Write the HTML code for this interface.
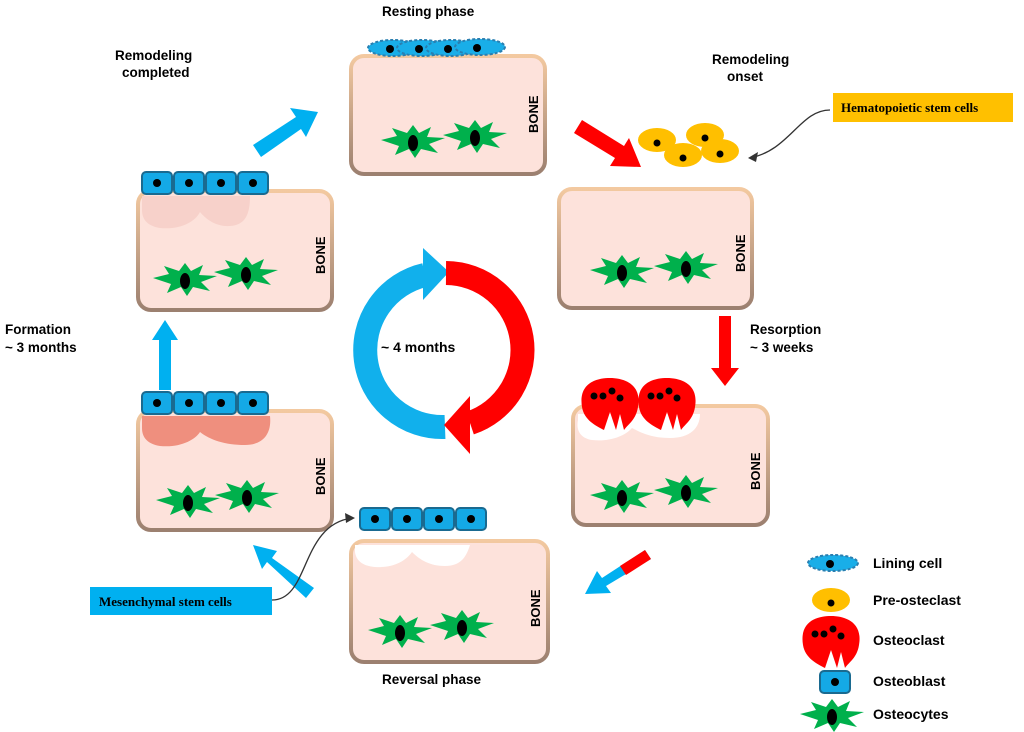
<!DOCTYPE html>
<html><head><meta charset="utf-8"><style>
body{margin:0;background:#fff}
svg{display:block}
text{font-family:"Liberation Sans",Arial,sans-serif;font-weight:bold;fill:#000}
</style></head><body>
<svg width="1024" height="732" viewBox="0 0 1024 732">
<defs>
<linearGradient id="bd" x1="0" y1="0" x2="0" y2="1"><stop offset="0" stop-color="#f3c9a0"/><stop offset="1" stop-color="#9c8070"/></linearGradient>
<g id="ocy">
<polygon points="-32,-2 -16,-6 -21,-14 -6,-9 0,-17 6,-9 18,-15 14,-5 32,-4 16,2 25,11 8,7 2,16 -4,7 -18,13 -14,4" fill="#00b04c"/>
<ellipse cx="0" cy="1" rx="5" ry="8" fill="#000"/>
</g>
<g id="ob">
<rect x="0" y="0" width="30" height="22" rx="4" fill="#14a9e6" stroke="#1a6a90" stroke-width="2"/>
<circle cx="15" cy="11" r="4" fill="#000"/>
</g>
<g id="lc">
<ellipse cx="0" cy="0" rx="25" ry="8" fill="#19aee8" stroke="#2a7fb0" stroke-width="2" stroke-dasharray="3 2"/>
<circle cx="-3" cy="1" r="4" fill="#000"/>
</g>
<g id="poc">
<ellipse cx="0" cy="0" rx="19" ry="12" fill="#ffbf00"/>
<circle cx="0" cy="3" r="3.5" fill="#000"/>
</g>
<g id="oc">
<path d="M-28,5 C-32,-20 -12,-24 0,-24 C14,-24 32,-18 28,5 C26,18 18,22 14,28 L10,12 L6,28 L0,10 L-6,28 C-14,24 -26,18 -28,5Z" fill="#f00"/>
<circle cx="-16" cy="-6" r="3.5" fill="#000"/><circle cx="-7" cy="-6" r="3.5" fill="#000"/><circle cx="2" cy="-11" r="3.5" fill="#000"/><circle cx="10" cy="-4" r="3.5" fill="#000"/>
</g>
</defs>

<g stroke="url(#bd)" stroke-width="4" fill="#fde2db">
<rect x="351" y="56" width="194" height="118" rx="13"/>
<rect x="559" y="189" width="193" height="119" rx="13"/>
<rect x="573" y="406" width="195" height="119" rx="13"/>
<rect x="351" y="541" width="197" height="121" rx="13"/>
<rect x="138" y="411" width="194" height="119" rx="13"/>
<rect x="138" y="191" width="194" height="119" rx="13"/>
</g>
<path d="M142,196 L250,196 C250,215 245,225 230,226 C215,227 205,218 200,212 C195,222 180,230 160,228 C148,226 142,220 142,210Z" fill="#f7d1ca"/>
<path d="M142,416 L270,416 C272,435 262,445 245,445 C225,445 210,440 200,432 C195,440 180,448 160,446 C148,444 142,438 142,428Z" fill="#ef8f7e"/>
<path d="M355,545 L470,545 C466,558 460,566 445,566 C430,566 420,560 412,552 C405,562 392,568 375,567 C362,566 356,560 355,552Z" fill="#fff"/>
<path d="M578,414 L700,414 C700,428 690,438 670,438 C650,438 640,432 632,428 C625,436 610,442 592,440 C580,438 576,430 578,420Z" fill="#fff"/>

<g font-size="13">
<text transform="translate(538,133) rotate(-90)">BONE</text>
<text transform="translate(745,272) rotate(-90)">BONE</text>
<text transform="translate(760,490) rotate(-90)">BONE</text>
<text transform="translate(540,627) rotate(-90)">BONE</text>
<text transform="translate(325,495) rotate(-90)">BONE</text>
<text transform="translate(325,274) rotate(-90)">BONE</text>
</g>

<use href="#ocy" x="413" y="142"/><use href="#ocy" x="475" y="137"/>
<use href="#ocy" x="622" y="272"/><use href="#ocy" x="686" y="268"/>
<use href="#ocy" x="622" y="497"/><use href="#ocy" x="686" y="492"/>
<use href="#ocy" x="400" y="632"/><use href="#ocy" x="462" y="627"/>
<use href="#ocy" x="188" y="502"/><use href="#ocy" x="247" y="497"/>
<use href="#ocy" x="185" y="280"/><use href="#ocy" x="246" y="274"/>

<use href="#lc" x="393" y="48"/><use href="#lc" x="422" y="48"/><use href="#lc" x="451" y="48"/><use href="#lc" x="480" y="47"/>
<use href="#ob" x="142" y="172"/><use href="#ob" x="174" y="172"/><use href="#ob" x="206" y="172"/><use href="#ob" x="238" y="172"/>
<use href="#ob" x="142" y="392"/><use href="#ob" x="174" y="392"/><use href="#ob" x="206" y="392"/><use href="#ob" x="238" y="392"/>
<use href="#ob" x="360" y="508"/><use href="#ob" x="392" y="508"/><use href="#ob" x="424" y="508"/><use href="#ob" x="456" y="508"/>
<use href="#poc" x="657" y="140"/><use href="#poc" x="705" y="135"/><use href="#poc" x="683" y="155"/><use href="#poc" x="720" y="151"/>
<use href="#oc" x="610" y="402"/><use href="#oc" x="667" y="402"/>

<polygon points="253,145 296,117 290,108 318,112 306,137 301,129 261,157" fill="#00b0f0"/>
<polygon points="582,120 624,146 629,138 641,167 610,166 615,158 574,133" fill="#f00"/>
<polygon points="719,316 731,316 731,368 739,368 725,386 711,368 719,368" fill="#f00"/>
<polygon points="645,550 602,578 597,571 585,594 611,593 606,586 651,559" fill="#00b0f0"/>
<polygon points="645,550 620,566 626,575 651,559" fill="#f00"/>
<polygon points="314,588 272,558 277,551 253,545 262,569 267,562 306,598" fill="#00b0f0"/>
<polygon points="159,390 171,390 171,340 178,340 165,320 152,340 159,340" fill="#00b0f0"/>

<path d="M445 427 A77 77 0 0 1 425 275" fill="none" stroke="#11b0ec" stroke-width="24"/>
<polygon points="423,248 449,272 423,300" fill="#11b0ec"/>
<path d="M446 273 A77 77 0 0 1 470 423" fill="none" stroke="#f00" stroke-width="24"/>
<polygon points="470,396 444,425 470,454" fill="#f00"/>
<text x="381" y="352" font-size="14">~ 4 months</text>

<g font-size="13.5">
<text x="382" y="16">Resting phase</text>
<text x="115" y="60">Remodeling</text><text x="122" y="77">completed</text>
<text x="712" y="64">Remodeling</text><text x="727" y="81">onset</text>
<text x="750" y="334">Resorption</text><text x="750" y="352">~ 3 weeks</text>
<text x="5" y="334">Formation</text><text x="5" y="352">~ 3 months</text>
<text x="382" y="684">Reversal phase</text>
</g>
<rect x="833" y="93" width="180" height="29" fill="#ffc000"/>
<text x="841" y="112" font-size="13" style="font-family:'Liberation Serif',serif">Hematopoietic stem cells</text>
<path d="M830 110 C800 110 790 150 750 158" fill="none" stroke="#333" stroke-width="1.3"/>
<polygon points="748,158 758,152 756,162" fill="#333"/>
<rect x="90" y="587" width="182" height="28" fill="#00b0f0"/>
<text x="99" y="606" font-size="13" style="font-family:'Liberation Serif',serif">Mesenchymal stem cells</text>
<path d="M272 600 C310 600 300 525 352 518" fill="none" stroke="#333" stroke-width="1.3"/>
<polygon points="355,518 345,513 346,523" fill="#333"/>

<use href="#lc" x="833" y="563"/>
<use href="#poc" x="831" y="600"/>
<use href="#oc" x="831" y="640"/>
<use href="#ob" x="820" y="671"/>
<use href="#ocy" x="832" y="716"/>
<g font-size="14">
<text x="873" y="568">Lining cell</text>
<text x="873" y="605">Pre-osteclast</text>
<text x="873" y="645">Osteoclast</text>
<text x="873" y="686">Osteoblast</text>
<text x="873" y="719">Osteocytes</text>
</g>
</svg>
</body></html>
